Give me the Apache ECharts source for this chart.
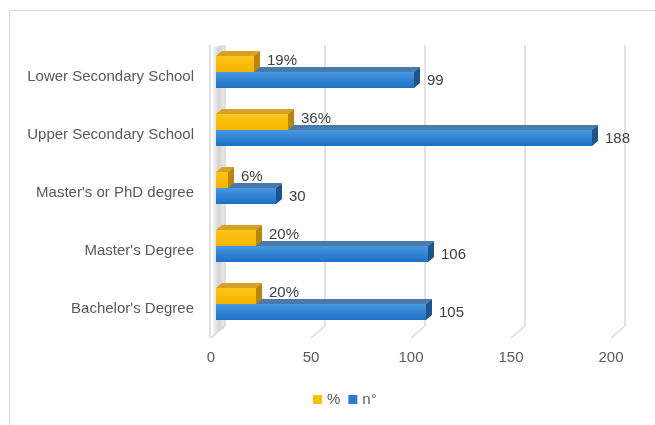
<!DOCTYPE html>
<html>
<head>
<meta charset="utf-8">
<script src="https://cdn.jsdelivr.net/npm/echarts@6/dist/echarts.min.js"></script>
<style>
  html, body { margin: 0; padding: 0; background: #ffffff; }
  #chart { width: 655px; height: 425px; }
</style>
</head>
<body>
<div id="chart"></div>
<script>
// Education level of respondents: share (%) and headcount (n°)
const categories = [
  "Lower Secondary School",
  "Upper Secondary School",
  "Master's or PhD degree",
  "Master's Degree",
  "Bachelor's Degree"
];
const pctValues = [19, 36, 6, 20, 20];
const countValues = [99, 188, 30, 106, 105];
const xTicks = [0, 50, 100, 150, 200];

const FONT = '"Liberation Sans", Arial, sans-serif';
const TEXT = '#404040';
const AXIS_TEXT = '#595959';
const GRID_LINE = '#d9d9d9';

// Pseudo-3D geometry (pixels)
const WALL_DX = 14, WALL_DY = -12;   // back wall offset from the floor's front edge
const BAR_SHIFT = 5;                 // bars sit midway in depth
const BAR_H = 16;                    // front face height
const DEPTH_DX = 6, DEPTH_DY = -5;   // bar top/side face offset

const chart = echarts.init(document.getElementById('chart'), null, { renderer: 'canvas' });

function gridRender(params, api) {
  const cs = params.coordSys;
  const x = api.coord([api.value(0), 0])[0];
  const yBottom = cs.y + cs.height;
  const yTop = cs.y - 3;
  const children = [{
    type: 'polyline',
    shape: { points: [[x + WALL_DX, yTop], [x + WALL_DX, yBottom + WALL_DY], [x, yBottom]] },
    style: { stroke: GRID_LINE, lineWidth: 1.5, fill: null }
  }];
  if (api.value(0) === 0) {
    // side wall on the left edge
    children.unshift({
      type: 'polygon',
      shape: { points: [[x + 2, yTop + 2], [x + WALL_DX, yTop], [x + WALL_DX, yBottom + WALL_DY], [x + 2, yBottom - 2]] },
      style: {
        fill: new echarts.graphic.LinearGradient(0, 0, 1, 0, [
          { offset: 0, color: '#f4f4f4' },
          { offset: 0.5, color: '#d4d4d4' },
          { offset: 1, color: '#ececec' }
        ])
      }
    });
    children.push({
      type: 'line',
      shape: { x1: x - 1, y1: yTop, x2: x - 1, y2: yBottom },
      style: { stroke: GRID_LINE, lineWidth: 1.5 }
    });
  }
  return { type: 'group', children: children };
}

function barRenderer(kind) {
  const pal = kind === 'pct'
    ? { f0: '#ffc61a', f1: '#f5b300', top: '#d6a226', side: '#b8860b' }
    : { f0: '#4799e2', f1: '#1d6fc2', top: '#4a7aab', side: '#1f5488' };
  return function (params, api) {
    const v = api.value(0);
    const i = api.value(1);
    const base = api.coord([0, i]);
    const end = api.coord([v, i]);
    const c = base[1];
    const x0 = base[0] + BAR_SHIFT;
    const x1 = end[0] + BAR_SHIFT;
    const y0 = kind === 'pct' ? c - 5 - BAR_H : c - 5;
    const y1 = y0 + BAR_H;
    const label = kind === 'pct' ? v + '%' : String(v);
    const labelY = kind === 'pct' ? y0 + 5 : y0 + 9;
    return {
      type: 'group',
      children: [
        {
          type: 'polygon',
          shape: { points: [[x0, y0], [x1, y0], [x1 + DEPTH_DX, y0 + DEPTH_DY], [x0 + DEPTH_DX, y0 + DEPTH_DY]] },
          style: { fill: pal.top }
        },
        {
          type: 'polygon',
          shape: { points: [[x1, y0], [x1 + DEPTH_DX, y0 + DEPTH_DY], [x1 + DEPTH_DX, y1 + DEPTH_DY], [x1, y1]] },
          style: { fill: pal.side }
        },
        {
          type: 'rect',
          shape: { x: x0, y: y0, width: x1 - x0, height: BAR_H },
          style: {
            fill: new echarts.graphic.LinearGradient(0, 0, 0, 1, [
              { offset: 0, color: pal.f0 },
              { offset: 1, color: pal.f1 }
            ])
          }
        },
        {
          type: 'text',
          style: {
            x: x1 + DEPTH_DX + 7,
            y: labelY,
            text: label,
            fill: TEXT,
            font: '15px ' + FONT,
            verticalAlign: 'middle',
            align: 'left'
          }
        }
      ]
    };
  };
}

const option = {
  backgroundColor: '#ffffff',
  animation: false,
  textStyle: { fontFamily: FONT },
  graphic: [{
    type: 'rect',
    shape: { x: 9.5, y: 10.5, width: 700, height: 500 },
    style: { fill: 'none', stroke: '#d9d9d9', lineWidth: 1 },
    silent: true,
    z: -10
  }],
  grid: { left: 211, right: 44, top: 48, bottom: 87, containLabel: false },
  legend: {
    data: [
      { name: '%', icon: 'rect' },
      { name: 'n°', icon: 'rect' }
    ],
    left: 308,
    top: 387,
    itemWidth: 9,
    itemHeight: 9,
    itemGap: 8,
    textStyle: { color: AXIS_TEXT, fontSize: 15, fontFamily: FONT }
  },
  xAxis: {
    type: 'value',
    min: xTicks[0],
    max: xTicks[xTicks.length - 1],
    interval: xTicks[1] - xTicks[0],
    axisLine: { show: false },
    axisTick: { show: false },
    splitLine: { show: false },
    axisLabel: { color: AXIS_TEXT, fontSize: 15, fontFamily: FONT, margin: 12 }
  },
  yAxis: {
    type: 'category',
    inverse: true,
    data: categories,
    axisLine: { show: false },
    axisTick: { show: false },
    splitLine: { show: false },
    axisLabel: { color: AXIS_TEXT, fontSize: 15, fontFamily: FONT, margin: 17 }
  },
  series: [
    {
      name: 'walls',
      type: 'custom',
      renderItem: gridRender,
      data: xTicks.map(t => [t, 0]),
      encode: { x: 0, y: 1 },
      silent: true,
      z: 1
    },
    {
      name: 'n°',
      type: 'custom',
      renderItem: barRenderer('count'),
      data: countValues.map((v, i) => [v, i]),
      encode: { x: 0, y: 1 },
      itemStyle: { color: '#2e7ad1' },
      z: 2
    },
    {
      name: '%',
      type: 'custom',
      renderItem: barRenderer('pct'),
      data: pctValues.map((v, i) => [v, i]),
      encode: { x: 0, y: 1 },
      itemStyle: { color: '#ffc000' },
      z: 3
    }
  ]
};

chart.setOption(option);
</script>
</body>
</html>
